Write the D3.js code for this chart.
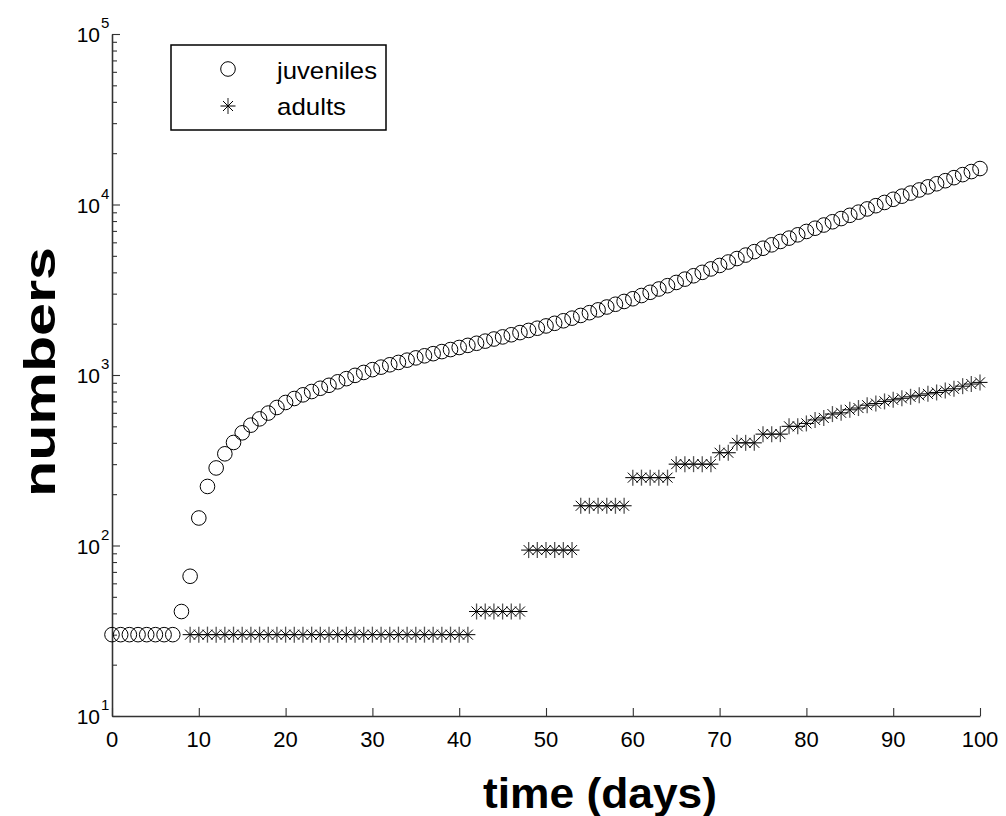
<!DOCTYPE html>
<html>
<head>
<meta charset="utf-8">
<script src="https://cdn.jsdelivr.net/npm/d3@7"></script>
<style>
  html, body { margin: 0; padding: 0; background: #fff; }
  svg { display: block; font-family: "Liberation Sans", Arial, sans-serif; }
</style>
</head>
<body>
<svg id="chart" width="1006" height="816"></svg>
<script>
// ---- data ----
const days = d3.range(0, 101);
const juveniles = [
  30, 30, 30, 30, 30, 30, 30, 30, 41, 66,
  145, 222, 285, 345, 402, 458, 508, 553, 598, 645,
  690, 728, 765, 800, 836, 870, 912, 952, 995, 1035,
  1075, 1112, 1148, 1185, 1222, 1260, 1296, 1334, 1372, 1410,
  1450, 1492, 1535, 1580, 1626, 1673, 1722, 1773, 1826, 1881,
  1940, 2010, 2080, 2155, 2235, 2320, 2410, 2505, 2600, 2700,
  2800, 2925, 3055, 3195, 3340, 3490, 3650, 3820, 4000, 4190,
  4390, 4600, 4820, 5050, 5290, 5540, 5800, 6070, 6350, 6640,
  6950, 7260, 7580, 7920, 8270, 8640, 9020, 9420, 9840, 10280,
  10730, 11190, 11670, 12170, 12690, 13230, 13790, 14370, 14970, 15600,
  16250
];
const adults = [
  null, null, null, null, null, null, null, null, null, 30,
  30, 30, 30, 30, 30, 30, 30, 30, 30, 30,
  30, 30, 30, 30, 30, 30, 30, 30, 30, 30,
  30, 30, 30, 30, 30, 30, 30, 30, 30, 30,
  30, 30, 41, 41, 41, 41, 41, 41, 94, 94,
  94, 94, 94, 94, 171, 171, 171, 171, 171, 171,
  250, 250, 250, 250, 250, 300, 300, 300, 300, 300,
  350, 350, 400, 400, 400, 450, 450, 450, 500, 500,
  520, 545, 560, 590, 600, 625, 640, 665, 680, 700,
  715, 730, 745, 760, 775, 790, 810, 830, 860, 885,
  905
];
const xTicks = [0, 10, 20, 30, 40, 50, 60, 70, 80, 90, 100];
const yDecades = [10, 100, 1000, 10000, 100000];
const yExponents = ["1", "2", "3", "4", "5"];
const legendLabels = ["juveniles", "adults"];

// ---- layout ----
const svg = d3.select("#chart");
const x = d3.scaleLinear().domain([0, 100]).range([112, 980]);
const y = d3.scaleLog().domain([10, 100000]).range([716, 34]);

const axisColor = "#333";

// minor y ticks
const minors = [];
for (let d = 10; d < 100000; d *= 10) for (let k = 2; k <= 9; k++) minors.push(d * k);

const yMinor = svg.append("g").attr("transform", "translate(112,0)")
  .call(d3.axisLeft(y).tickValues(minors).tickSize(-5).tickSizeOuter(0).tickFormat(""));
const yMajor = svg.append("g").attr("transform", "translate(112,0)")
  .call(d3.axisLeft(y).tickValues(yDecades).tickSize(-8).tickSizeOuter(0).tickFormat(""));
const xAxis = svg.append("g").attr("transform", "translate(0,716)")
  .call(d3.axisBottom(x).tickValues(xTicks).tickSize(-8).tickSizeOuter(0).tickFormat(""));
[yMinor, yMajor, xAxis].forEach(g => {
  g.selectAll("path").attr("stroke", axisColor).attr("stroke-width", 1.3);
  g.selectAll("line").attr("stroke", axisColor).attr("stroke-width", 1.1);
});

// x tick labels
svg.append("g").selectAll("text").data(xTicks).join("text")
  .attr("x", d => x(d)).attr("y", 747)
  .attr("text-anchor", "middle").attr("font-size", 22).attr("fill", "#000")
  .text(d => d);

// y tick labels with superscripts
const yl = svg.append("g").selectAll("g").data(yDecades).join("g")
  .attr("transform", d => `translate(100,${y(d) + 8})`);
yl.append("text").attr("text-anchor", "end").attr("font-size", 21).attr("fill", "#000").text("10");
yl.append("text").attr("x", 1).attr("y", -14).attr("font-size", 15).attr("fill", "#000")
  .text((d, i) => yExponents[i]);

// axis titles
svg.append("text").attr("x", 600).attr("y", 808).attr("text-anchor", "middle")
  .attr("font-size", 43).attr("font-weight", "bold").attr("fill", "#000")
  .attr("textLength", 234).attr("lengthAdjust", "spacingAndGlyphs").text("time (days)");
svg.append("text").attr("transform", "translate(55,372) rotate(-90)").attr("text-anchor", "middle")
  .attr("font-size", 44).attr("font-weight", "bold").attr("fill", "#000")
  .attr("textLength", 250).attr("lengthAdjust", "spacingAndGlyphs").text("numbers");

// asterisk marker
function asterisk(g) {
  g.append("line").attr("x1", -7.5).attr("x2", 7.5).attr("y1", 0).attr("y2", 0)
    .attr("stroke", "#000").attr("stroke-width", 1);
  g.append("line").attr("x1", 0).attr("x2", 0).attr("y1", -8).attr("y2", 8)
    .attr("stroke", "#555").attr("stroke-width", 1.3);
  g.append("line").attr("x1", -5).attr("x2", 5).attr("y1", -5).attr("y2", 5)
    .attr("stroke", "#000").attr("stroke-width", 1);
  g.append("line").attr("x1", -5).attr("x2", 5).attr("y1", 5).attr("y2", -5)
    .attr("stroke", "#000").attr("stroke-width", 1);
}

// juveniles
svg.append("g").selectAll("circle").data(days.map((d, i) => [d, juveniles[i]])).join("circle")
  .attr("cx", d => x(d[0])).attr("cy", d => y(d[1])).attr("r", 7.3)
  .attr("fill", "none").attr("stroke", "#000").attr("stroke-width", 1);

// adults
svg.append("g").selectAll("g").data(days.map((d, i) => [d, adults[i]]).filter(d => d[1] != null)).join("g")
  .attr("transform", d => `translate(${x(d[0])},${y(d[1])})`)
  .each(function () { asterisk(d3.select(this)); });

// legend
const lg = svg.append("g");
lg.append("rect").attr("x", 171).attr("y", 45).attr("width", 215).attr("height", 85)
  .attr("fill", "#fff").attr("stroke", "#000").attr("stroke-width", 1.5);
lg.append("circle").attr("cx", 228).attr("cy", 69).attr("r", 7.3)
  .attr("fill", "none").attr("stroke", "#000").attr("stroke-width", 1);
asterisk(lg.append("g").attr("transform", "translate(228,106)"));
lg.selectAll("text.lab").data(legendLabels).join("text").attr("class", "lab")
  .attr("x", 277).attr("y", (d, i) => 79 + i * 36)
  .attr("font-size", 24).attr("fill", "#000")
  .attr("textLength", (d, i) => i === 0 ? 100 : 69).attr("lengthAdjust", "spacingAndGlyphs")
  .text(d => d);
</script>
</body>
</html>
